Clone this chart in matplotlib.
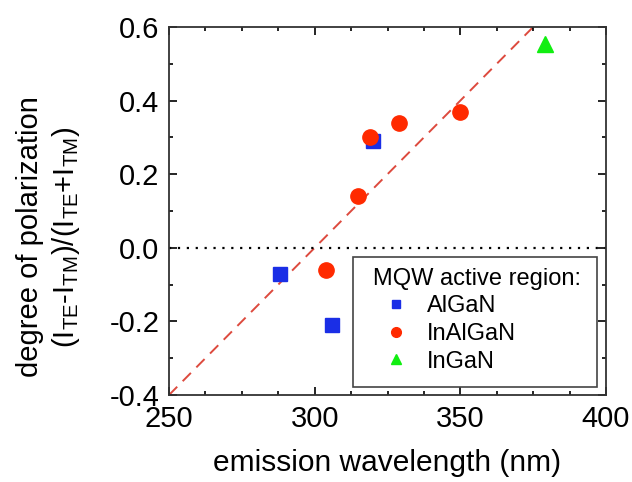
import numpy as np
import matplotlib.pyplot as plt
from matplotlib.patches import Rectangle
from matplotlib.ticker import MultipleLocator

plt.rcParams['font.family'] = ['Liberation Sans', 'DejaVu Sans']
plt.rcParams['mathtext.default'] = 'regular'

# data
algan_wl = [288, 306, 320]
algan_pol = [-0.07, -0.21, 0.29]
inalgan_wl = [304, 315, 319, 329, 350]
inalgan_pol = [-0.06, 0.14, 0.30, 0.34, 0.37]
ingan_wl = [379]
ingan_pol = [0.555]

# linear guide line through the data
fit_wl = [250, 375]
fit_pol = [-0.4, 0.6]

fig = plt.figure(figsize=(6.32, 4.82), dpi=100)
ax = fig.add_axes([169 / 632, 1 - 395 / 482, 437 / 632, 368 / 482])

ax.plot(fit_wl, fit_pol, color='#dd4a3e', linestyle=(0, (6, 4)), linewidth=1.4, zorder=1)
ax.axhline(0, color='black', linestyle=(0, (1, 3)), linewidth=1.6, zorder=1)

ax.plot(algan_wl, algan_pol, 's', color='#1a2ee6', markersize=10, linestyle='none', zorder=2)
ax.plot(inalgan_wl, inalgan_pol, 'o', color='#ff2a00', markersize=11, linestyle='none', zorder=3)
ax.plot(ingan_wl, ingan_pol, '^', color='#11ee11', markersize=12, linestyle='none', zorder=3)

# legend box drawn separately so it can be wider than the content
ax.add_patch(Rectangle((0.421, 0.022), 0.558, 0.353, transform=ax.transAxes,
                       facecolor='white', edgecolor='#444444', linewidth=1.2, zorder=4))

# legend handles with small markers
h1, = ax.plot([], [], 's', color='#1a2ee6', markersize=6, linestyle='none')
h2, = ax.plot([], [], 'o', color='#ff2a00', markersize=7, linestyle='none')
h3, = ax.plot([], [], '^', color='#11ee11', markersize=7, linestyle='none')
leg = ax.legend([h1, h2, h3], ['AlGaN', 'InAlGaN', 'InGaN'],
                title='MQW active region:', loc='upper left',
                bbox_to_anchor=(0.439, 0.378), fontsize=17, title_fontsize=17,
                frameon=False, handletextpad=0.3, labelspacing=0.24, borderpad=0.5,
                handlelength=2.0, borderaxespad=0, alignment='left')
leg.set_zorder(5)

ax.set_xlim(250, 400)
ax.set_ylim(-0.4, 0.6)
ax.xaxis.set_major_locator(MultipleLocator(50))
ax.xaxis.set_minor_locator(MultipleLocator(12.5))
ax.yaxis.set_major_locator(MultipleLocator(0.2))
ax.yaxis.set_minor_locator(MultipleLocator(0.1))
ax.yaxis.set_major_formatter(plt.FuncFormatter(lambda v, p: f'{v:.1f}'))

ax.tick_params(which='both', direction='in', top=True, right=True, width=1.2)
ax.tick_params(which='major', length=6, labelsize=21, pad=7)
ax.tick_params(which='minor', length=3)
for s in ax.spines.values():
    s.set_linewidth(1.3)
    s.set_color('#333333')
    s.set_zorder(6)

ax.set_xlabel('emission wavelength (nm)', fontsize=21.5, labelpad=12)
ax.set_ylabel('degree of polarization\n(I$_{TE}$-I$_{TM}$)/(I$_{TE}$+I$_{TM}$)',
              fontsize=21, linespacing=1.25)
ax.yaxis.set_label_coords(-0.199, 0.43)

fig.savefig('out.png', dpi=100)
